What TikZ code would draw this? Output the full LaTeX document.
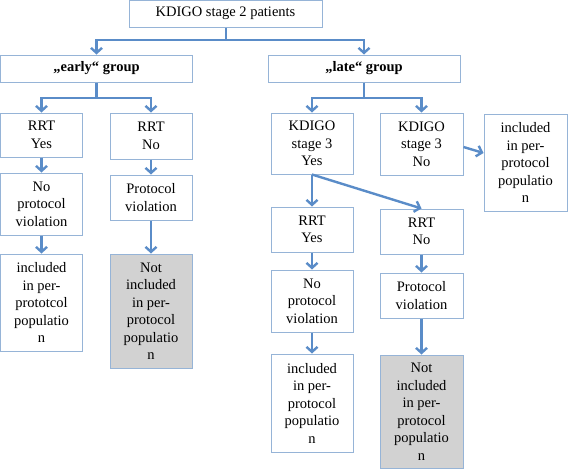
\documentclass[tikz,border=0pt]{standalone}
\usepackage{fontspec}
\setmainfont{Liberation Serif}
\newfontfamily\tnr{Liberation Serif}
\usetikzlibrary{arrows.meta}
\definecolor{arrowblue}{RGB}{90,140,200}
\definecolor{boxblue}{RGB}{150,180,215}
\definecolor{boxgray}{RGB}{210,210,210}
\begin{document}
\begin{tikzpicture}[x=1pt,y=-1pt,
  box/.style={draw=boxblue, line width=1pt, fill=white, align=center, inner sep=0pt,
    font=\tnr\fontsize{14.5}{17.5}\selectfont},
  graybox/.style={box, fill=boxgray},
  arr/.style={draw=arrowblue, line width=2.4pt, -{Straight Barb[length=5pt,width=11pt]}},
  ln/.style={draw=arrowblue, line width=2.4pt}]
\useasboundingbox (0,0) rectangle (568,469);

\node[box, minimum width=193pt, minimum height=26.5pt] (top) at (225.5,13.75) {KDIGO stage 2 patients};
\node[box, minimum width=192pt, minimum height=27pt] (early) at (96.5,68.5) {\textbf{„early“ group}};
\node[box, minimum width=192pt, minimum height=27pt] (late) at (364,68.5) {\textbf{„late“ group}};

\node[box, minimum width=82pt, minimum height=44pt] (eRY) at (41.5,135) {RRT\\Yes};
\node[box, minimum width=82pt, minimum height=46pt] (eRN) at (151,136) {RRT\\No};
\node[box, minimum width=82pt, minimum height=62pt] (eNPV) at (41.5,204) {No\\protocol\\violation};
\node[box, minimum width=82pt, minimum height=45pt] (ePV) at (151,197.5) {Protocol\\violation};
\node[box, minimum width=82pt, minimum height=97pt] (eInc) at (41.5,302.5) {included\\in per-\\prototcol\\populatio\\n};
\node[graybox, minimum width=82pt, minimum height=114pt] (eNot) at (151,311) {Not\\included\\in per-\\protocol\\populatio\\n};

\node[box, minimum width=82pt, minimum height=61pt] (lKY) at (312,143.5) {KDIGO\\stage 3\\Yes};
\node[box, minimum width=83pt, minimum height=62pt] (lKN) at (421.5,144) {KDIGO\\stage 3\\No};
\node[box, minimum width=83pt, minimum height=97pt] (lInc) at (525.5,162.5) {included\\in per-\\protocol\\populatio\\n};
\node[box, minimum width=82pt, minimum height=45pt] (lRY) at (312,229.5) {RRT\\Yes};
\node[box, minimum width=83pt, minimum height=45pt] (lRN) at (421.5,231.5) {RRT\\No};
\node[box, minimum width=82pt, minimum height=62pt] (lNPV) at (312,301) {No\\protocol\\violation};
\node[box, minimum width=83pt, minimum height=45pt] (lPV) at (421.5,295.5) {Protocol\\violation};
\node[box, minimum width=82pt, minimum height=98pt] (lInc2) at (312,403) {included\\in per-\\protocol\\populatio\\n};
\node[graybox, minimum width=83pt, minimum height=113pt] (lNot) at (421.5,411.5) {Not\\included\\in per-\\protocol\\populatio\\n};

% top bracket
\coordinate (j1) at (226,40);
\draw[ln] (top.south -| j1) -- (j1);
\draw[arr] (j1) -| (early.north);
\draw[arr] (j1) -| (late.north);

% early bracket
\coordinate (j2) at (96.5,98);
\draw[ln] (early.south) -- (j2);
\draw[arr] (j2) -| (eRY.north);
\draw[arr] (j2) -| (eRN.north);

% late bracket
\coordinate (j3) at (364,98);
\draw[ln] (late.south) -- (j3);
\draw[arr] (j3) -| (lKY.north);
\draw[arr] (j3) -| (lKN.north);

% early chains
\draw[arr] (eRY.south) -- (eNPV.north);
\draw[arr] (eNPV.south) -- (eInc.north);
\draw[arr] (eRN.south) -- (ePV.north);
\draw[arr] (ePV.south) -- (eNot.north);

% late chains
\draw[arr] (lKY.south) -- (lRY.north);
\draw[arr] (lKY.south) -- (lRN.north);
\draw[arr] ([yshift=-3pt]lKN.east) -- ([yshift=9.5pt]lInc.west);
\draw[arr] (lRY.south) -- (lNPV.north);
\draw[arr] (lNPV.south) -- (lInc2.north);
\draw[arr] (lRN.south) -- (lPV.north);
\draw[arr] (lPV.south) -- (lNot.north);
\end{tikzpicture}
\end{document}
